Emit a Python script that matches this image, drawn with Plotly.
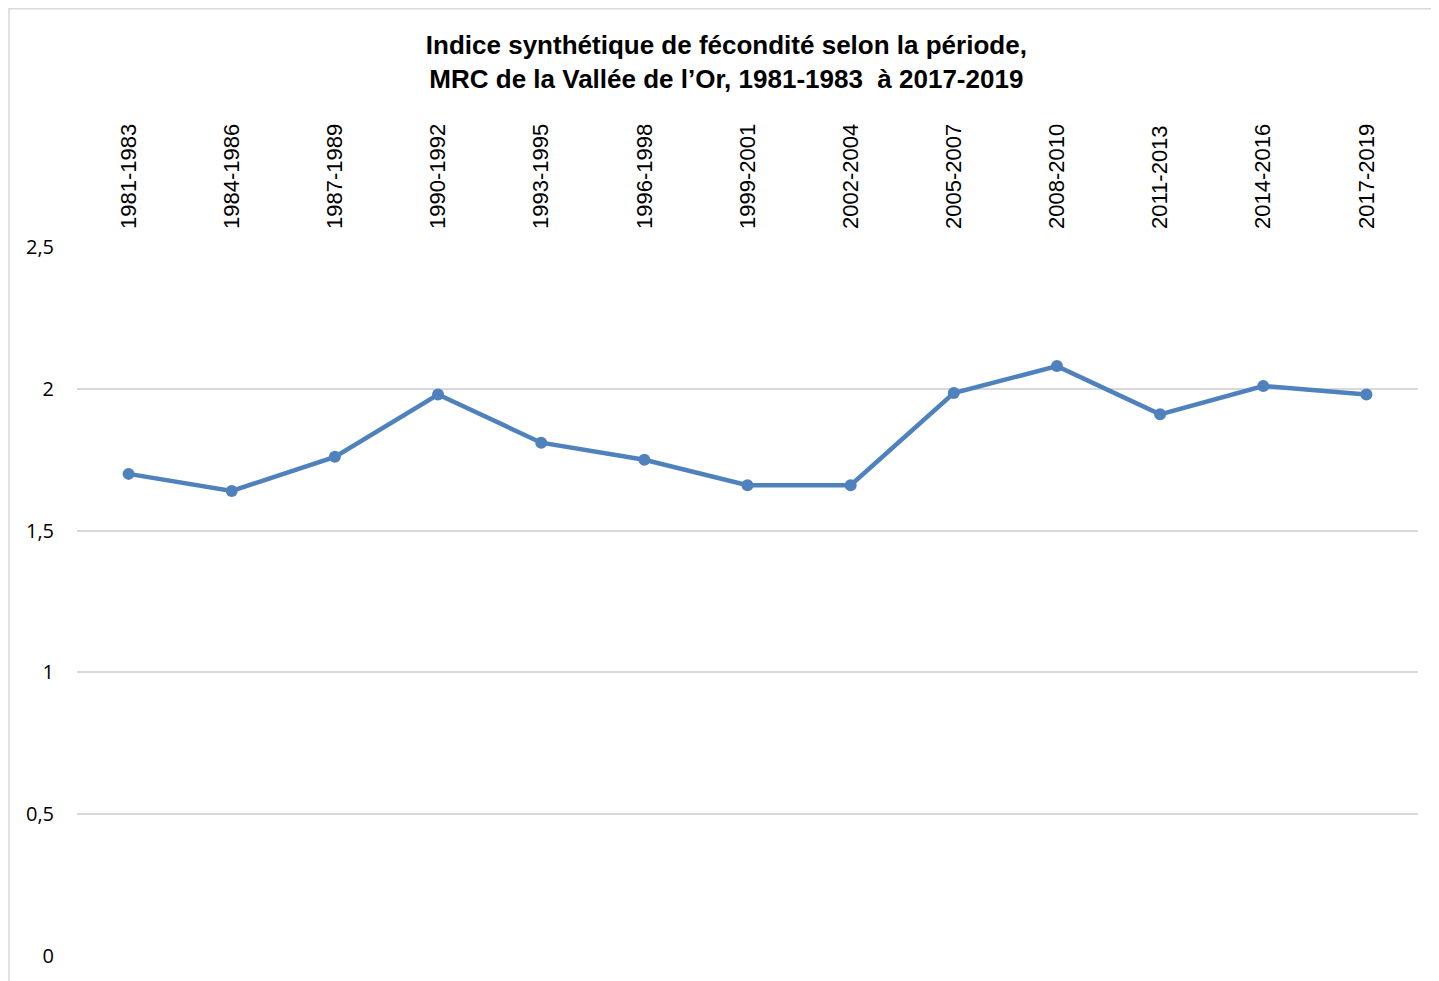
import plotly.graph_objects as go

periods = ["1981-1983", "1984-1986", "1987-1989", "1990-1992", "1993-1995", "1996-1998",
           "1999-2001", "2002-2004", "2005-2007", "2008-2010", "2011-2013", "2014-2016", "2017-2019"]
isf = [1.70, 1.64, 1.76, 1.98, 1.81, 1.75, 1.66, 1.66, 1.985, 2.08, 1.91, 2.01, 1.98]
y_ticks = [0, 0.5, 1, 1.5, 2, 2.5]
y_labels = ["0", "0,5", "1", "1,5", "2", "2,5"]

W, H = 1431, 973
ML, MR, MT, MB = 69, 21, 239, 25
PW, PH = W - ML - MR, H - MT - MB

fig = go.Figure()
fig.add_trace(go.Scatter(
    x=list(range(len(periods))), y=isf, mode="lines+markers",
    line=dict(color="#4F81BD", width=4.5),
    marker=dict(color="#4F81BD", size=12),
    hoverinfo="x+y", showlegend=False,
))

fig.update_layout(
    width=W, height=H,
    margin=dict(l=ML, r=MR, t=MT, b=MB),
    paper_bgcolor="white", plot_bgcolor="white",
    title=dict(
        text="Indice synthétique de fécondité selon la période,<br>MRC de la Vallée de l’Or, 1981-1983  à 2017-2019",
        x=0.502, xanchor="center", y=0.953, yanchor="top",
        font=dict(family="Liberation Sans Narrow, Arial Narrow, Liberation Sans, Arial", size=26, color="black", weight="bold"),
    ),
    xaxis=dict(
        range=[-0.5, len(periods) - 0.5], side="top",
        tickmode="array", tickvals=list(range(len(periods))), ticktext=periods,
        tickangle=-90, showgrid=False, zeroline=False, showline=False, ticks="",
        tickfont=dict(family="Liberation Sans, Arial", size=22, color="black"),
        ticklabelstandoff=17,
    ),
    yaxis=dict(
        range=[0, 2.5], tickmode="array", tickvals=y_ticks, ticktext=y_labels,
        showgrid=True, gridcolor="#D9D9D9", gridwidth=1.5, zeroline=False, showline=False,
        ticks="", tickfont=dict(family="Open Sans, Calibri, sans-serif", size=20, color="black"),
        ticklabelstandoff=22,
    ),
    shapes=[dict(type="rect", xref="paper", yref="paper",
                 x0=-68 / PW, x1=1.0 + 60 / PW, y0=-60 / PH, y1=1 + (MT - 0.8) / PH,
                 line=dict(color="#D9D9D9", width=1.5), fillcolor="rgba(0,0,0,0)", layer="below")],
)

fig.write_html("out.html")
